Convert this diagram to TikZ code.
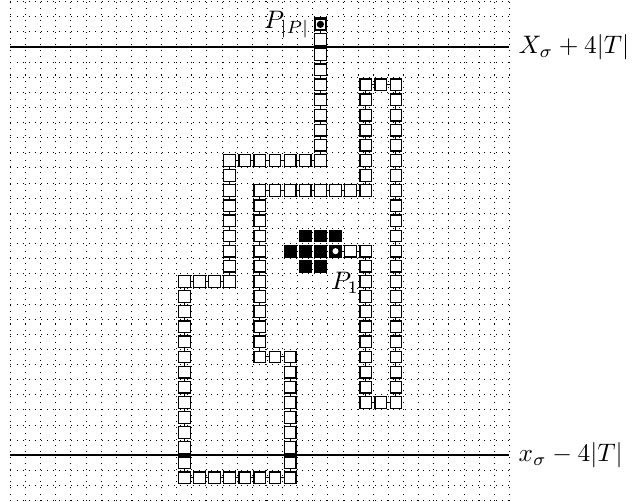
\documentclass[tikz,border=0pt]{standalone}
\usepackage{tikz}
\usetikzlibrary{positioning, backgrounds}
% straight runs of the path: x1/y1/x2/y2
\newcommand{\tilerun}{21/16/23/16, 23/16/23/6, 23/6/25/6, 25/6/25/27,
  25/27/23/27, 23/27/23/20, 23/20/16/20, 16/20/16/9, 16/9/18/9,
  18/9/18/1, 18/1/11/1, 11/1/11/14, 11/14/14/14, 14/14/14/22,
  14/22/20/22, 20/22/20/31}

\begin{document}
\begin{tikzpicture}[
  x=0.21cm, y=0.21cm,
  tile/.style={
    rectangle, draw=black, fill=white,
    line width=0.5pt, minimum size=1.62mm, inner sep=0pt},
  seed/.style={tile, fill=black},
  glue/.style={line width=0.4pt},
  bound/.style={line width=0.7pt},
  lbl/.style={inner sep=0pt},
]
  \useasboundingbox (-1.19,-0.59) rectangle (40.94,32.61);

  % tiles of the path
  \foreach \xa/\ya/\xb/\yb in \tilerun {
    \foreach \x in {\xa,...,\xb}
      \foreach \y in {\ya,...,\yb}
        \node[tile] (c-\x-\y) at (\x,\y) {};
  }

  % seed assembly
  \foreach \x/\y in {19/17, 20/17, 21/17, 18/16, 19/16, 20/16, 19/15, 20/15}
    \node[seed] (s-\x-\y) at (\x,\y) {};
  \node[seed] (p1) at (21,16) {};
  \fill[white] (p1.center) circle (0.2);
  \node[tile, line width=0.8pt] (ptop) at (20,31) {};
  \fill (ptop.center) circle (0.24);

  \begin{scope}[on background layer]
    \draw[dotted, line width=0.4pt, step=1, shift={(-0.5,-0.5)}] (0,0) grid (33,33);
    \foreach \xa/\ya/\xb/\yb in \tilerun
      \draw[glue] (c-\xa-\ya.center) -- (c-\xb-\yb.center);
  \end{scope}

  % bounds
  \coordinate (hiW) at (-0.5,29.5);
  \coordinate (hiE) at (32.5,29.5);
  \coordinate (loW) at (-0.5,2.5);
  \coordinate (loE) at (32.5,2.5);
  \draw[bound] (hiW) -- (hiE) node[right] (hilbl) {$X_\sigma+4|T|$};
  \draw[bound] (loW) -- (loE) node[right] (lolbl) {$x_\sigma-4|T|$};

  \node[lbl, left=1.4pt of ptop] (ptoplbl) {$P_{|P|}$};
  \node[lbl, anchor=north west] (p1lbl) at (20.7,14.61) {$P_1$};
\end{tikzpicture}
\end{document}
